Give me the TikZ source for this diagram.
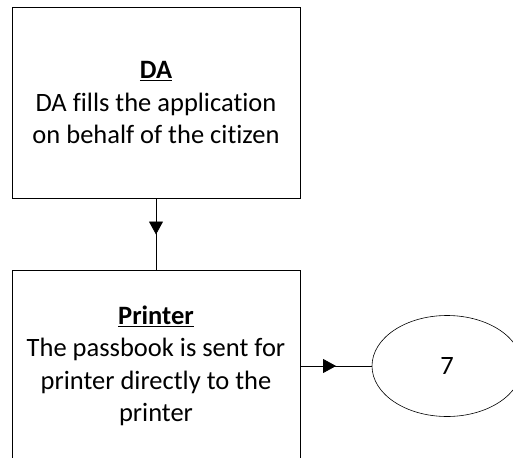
\documentclass[tikz,border=0pt]{standalone}
\usepackage{fontspec}
\setmainfont{Carlito}[Ligatures=NoCommon]
\usetikzlibrary{arrows.meta}
\usetikzlibrary{shapes.geometric}
\usetikzlibrary{decorations.markings}

\tikzset{
  stepbox/.style={draw, line width=0.8pt, minimum width=288pt, minimum height=191pt, align=center, font=\fontsize{26.5}{32.5}\selectfont},
  endcircle/.style={draw, ellipse, line width=0.6pt, minimum width=150pt, minimum height=101pt, font=\fontsize{26.5}{32.5}\selectfont},
  midarrow/.style={line width=0.8pt, postaction={decorate}, decoration={markings, mark=at position 0.5 with {\arrow{Triangle[length=13pt,width=14pt]}}}}
}

\begin{document}
\begin{tikzpicture}[x=1pt, y=-1pt]
    \useasboundingbox (0,0) rectangle (513,457);
    \clip (0,0) rectangle (513,457);
    \node [stepbox] (da) at (156,103) {\underline{\textbf{DA}}\\DA fills the application\\on behalf of the citizen};
    \node [stepbox] (printer) at (156,366) {\underline{\textbf{Printer}}\\The passbook is sent for\\printer directly to the\\printer};
    \node [endcircle] (seven) at (447,366) {7};
    \draw [midarrow] (da.south) -- (printer.north);
    \draw [midarrow] (printer.east) -- (seven.west);
\end{tikzpicture}
\end{document}
